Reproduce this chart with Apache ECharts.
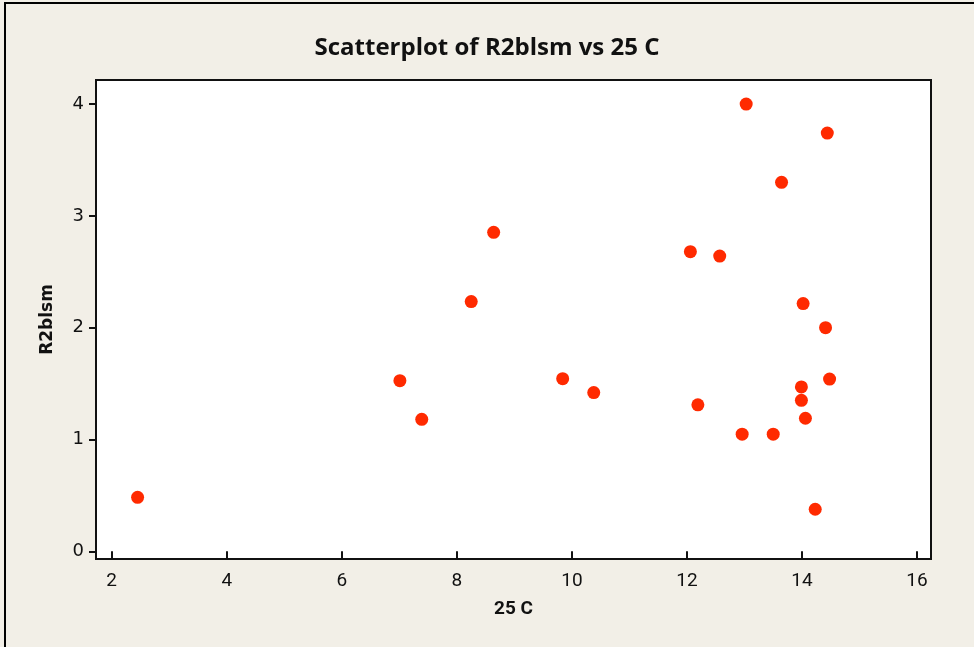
<!DOCTYPE html>
<html>
<head>
<meta charset="utf-8">
<script src="https://cdn.jsdelivr.net/npm/echarts@6/dist/echarts.min.js"></script>
<style>
html,body{margin:0;padding:0;background:#f2efe7;}
#c{width:974px;height:647px;}
</style>
</head>
<body>
<div id="c"></div>
<script>
var xValues = [13.03, 14.44, 13.645, 12.06, 12.57, 14.02, 14.41, 14.48, 13.99, 13.99, 14.06, 12.19, 12.96, 13.50, 14.23, 8.64, 8.25, 7.01, 7.39, 9.84, 10.38, 2.45];
var yValues = [4.00, 3.74, 3.30, 2.68, 2.64, 2.215, 2.00, 1.54, 1.47, 1.35, 1.19, 1.31, 1.047, 1.047, 0.376, 2.853, 2.233, 1.526, 1.18, 1.544, 1.419, 0.483];
var xTicks = [2, 4, 6, 8, 10, 12, 14, 16];
var yTicks = [0, 1, 2, 3, 4];

var pts = xValues.map(function (x, i) { return [x, yValues[i]]; });

var chart = echarts.init(document.getElementById('c'), null, {renderer: 'canvas'});
chart.setOption({
  backgroundColor: '#f2efe7',
  animation: false,
  title: {
    text: 'Scatterplot of R2blsm vs 25 C',
    left: 'center',
    top: 31,
    textStyle: {fontFamily: 'Open Sans', fontSize: 24, fontWeight: 'bold', color: '#111'}
  },
  graphic: [{
    type: 'rect', silent: true, z: -1,
    shape: {x: 5, y: 3, width: 1000, height: 700},
    style: {fill: 'none', stroke: '#000', lineWidth: 2}
  }],
  grid: {
    left: 96, right: 43, top: 80, bottom: 88,
    show: true, backgroundColor: '#ffffff', borderColor: '#111', borderWidth: 2
  },
  xAxis: {
    type: 'value', min: 1.727, max: 16.243,
    name: '25 C', nameLocation: 'middle', nameGap: 41,
    nameTextStyle: {fontFamily: 'Roboto', fontSize: 19, fontWeight: 'bold', color: '#111'},
    axisLine: {show: false},
    axisTick: {show: true, customValues: xTicks, length: 7, lineStyle: {color: '#111', width: 2}},
    axisLabel: {customValues: xTicks, margin: 13, fontFamily: 'Roboto', fontSize: 19, color: '#111'},
    splitLine: {show: false}
  },
  yAxis: {
    type: 'value', min: -0.069, max: 4.215,
    name: 'R2blsm', nameLocation: 'middle', nameGap: 40, nameRotate: 90,
    nameTextStyle: {fontFamily: 'DejaVu Sans', fontSize: 17, fontWeight: 'bold', color: '#111'},
    axisLine: {show: false},
    axisTick: {show: true, customValues: yTicks, length: 7, lineStyle: {color: '#111', width: 2}},
    axisLabel: {customValues: yTicks, margin: 12, fontFamily: 'DejaVu Sans', fontSize: 18, color: '#111'},
    splitLine: {show: false}
  },
  series: [{
    type: 'scatter',
    data: pts,
    symbol: 'circle',
    symbolSize: 13,
    itemStyle: {color: '#ff2a00', opacity: 1}
  }]
});
</script>
</body>
</html>
